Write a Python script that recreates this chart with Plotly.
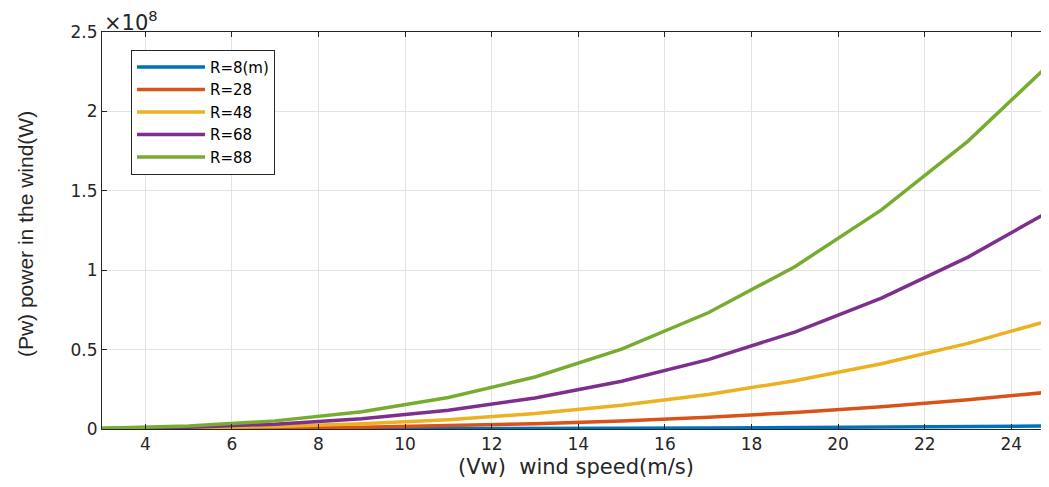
import plotly.graph_objects as go

# wind speed (m/s)
wind_speed = [3, 5, 7, 9, 11, 13, 15, 17, 19, 21, 23, 25]

# power in the wind (W)
p_r8 = [3.3e3, 1.54e4, 4.22e4, 8.98e4, 1.639e5, 2.706e5, 4.156e5, 6.05e5, 8.447e5, 1.1405e6, 1.4984e6, 1.9242e6]
p_r28 = [4.07e4, 1.886e5, 5.175e5, 1.0998e6, 2.0079e6, 3.3144e6, 5.0915e6, 7.4118e6, 1.03475e7, 1.39711e7, 1.83551e7, 2.35719e7]
p_r48 = [1.197e5, 5.542e5, 1.5207e6, 3.232e6, 5.9009e6, 9.7402e6, 1.49627e7, 2.17813e7, 3.04087e7, 4.10577e7, 5.3941e7, 6.92719e7]
p_r68 = [2.402e5, 1.1122e6, 3.0519e6, 6.4863e6, 1.18427e7, 1.95479e7, 3.00294e7, 4.37134e7, 6.10286e7, 8.24007e7, 1.08256e8, 1.39025e8]
p_r88 = [4.023e5, 1.8627e6, 5.1111e6, 1.0863e7, 1.98335e7, 3.2738e7, 5.02916e7, 7.32095e7, 1.02207e8, 1.38e8, 1.81302e8, 2.32831e8]

series_names = ["R=8(m)", "R=28", "R=48", "R=68", "R=88"]
series_values = [p_r8, p_r28, p_r48, p_r68, p_r88]
colors = ["#0072BD", "#D95319", "#EDB120", "#7E2F8E", "#77AC30"]

y_ticks = [0, 0.5, 1, 1.5, 2, 2.5]
y_tick_text = ["0", "0.5", "1", "1.5", "2", "2.5"]
x_ticks = [4, 6, 8, 10, 12, 14, 16, 18, 20, 22, 24]

FONT = "DejaVu Sans, Liberation Sans, Arial, sans-serif"
TXT = "#262626"

fig = go.Figure()
for name, vals, c in zip(series_names, series_values, colors):
    fig.add_trace(go.Scatter(
        x=wind_speed, y=[v / 1e8 for v in vals], mode="lines", name=name,
        line=dict(color=c, width=3.5),
    ))

axis_common = dict(
    showgrid=True, gridcolor="#E3E3E3", gridwidth=1,
    showline=True, linecolor=TXT, linewidth=1,
    ticks="inside", ticklen=5, tickcolor=TXT,
    tickfont=dict(family=FONT, size=17, color=TXT),
    zeroline=False, automargin=False,
)

# the page body has an 8px margin; compensate so the plot area sits at
# x 102..1049, y 32..429 in the 1049x487 window
fig.update_layout(
    width=1041, height=471,
    margin=dict(l=94, r=0, t=24, b=50, pad=0, autoexpand=False),
    paper_bgcolor="white", plot_bgcolor="white",
    font=dict(family=FONT, color=TXT),
    xaxis=dict(range=[3, 24.87], tickvals=x_ticks, mirror="ticks", **axis_common),
    yaxis=dict(range=[0, 2.5], tickvals=y_ticks, ticktext=y_tick_text, **axis_common),
    legend=dict(x=0.0306, y=0.955, xanchor="left", yanchor="top",
                bgcolor="white", bordercolor=TXT, borderwidth=1,
                font=dict(family=FONT, size=15, color="#000000"),
                tracegroupgap=0, itemwidth=68),
    showlegend=True,
)

fig.add_annotation(
    x=0.5, y=0, xref="paper", yref="paper", xanchor="center", yanchor="middle",
    yshift=-38, text="(Vw)  wind speed(m/s)", showarrow=False,
    font=dict(family=FONT, size=21, color=TXT),
)
fig.add_annotation(
    x=0, y=0.491, xref="paper", yref="paper", xanchor="center", yanchor="middle",
    xshift=-77, textangle=-90, text="(Pw) power in the wind(W)", showarrow=False,
    font=dict(family="Liberation Sans, Arial, sans-serif", size=21, color=TXT),
)
fig.add_annotation(
    x=0, y=1, xref="paper", yref="paper", xanchor="left", yanchor="bottom",
    xshift=0, yshift=-5, text="×10<sup>8</sup>", showarrow=False,
    font=dict(family=FONT, size=21, color=TXT),
)

fig.write_html("out.html")
